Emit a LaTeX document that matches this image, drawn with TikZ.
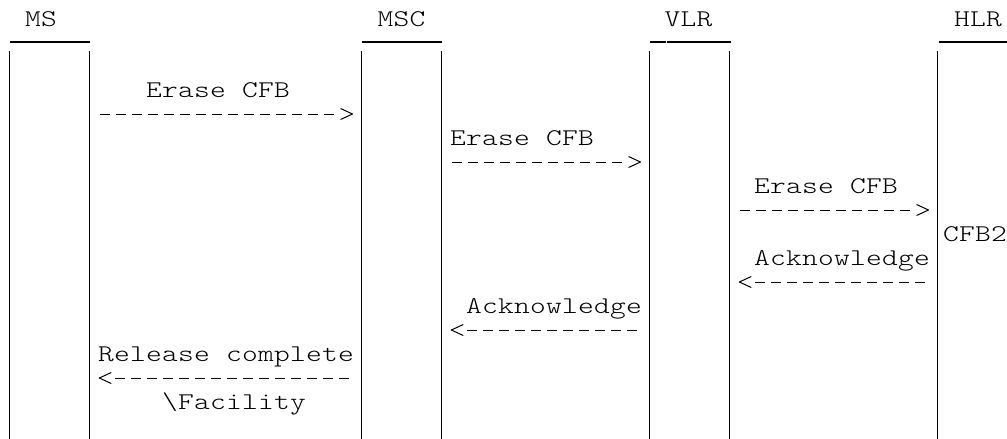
\documentclass[tikz,border=0pt]{standalone}
\usepackage{fontspec}
\usepackage{graphicx}
\usetikzlibrary{arrows.meta}
\newfontfamily\diagmono{lmmonolt10-regular.otf}
\newlength\cellw
\setlength\cellw{16pt}
\def\gridend{\gridend}
\newcommand\gridtext[1]{\gridloop#1\gridend}
\def\gridloop#1{\ifx#1\gridend\else\makebox[\cellw][c]{\scalebox{1.25}[1]{#1}}\expandafter\gridloop\fi}
\pgfdeclarearrow{
  name = Chev,
  parameters = {\the\pgfarrowlength,\the\pgfarrowwidth},
  setup code = {
    \pgfarrowssettipend{0pt}
    \pgfarrowssetlineend{-14pt}
    \pgfarrowssetbackend{-\pgfarrowlength}
    \pgfarrowssavethe\pgfarrowlength
    \pgfarrowssavethe\pgfarrowwidth
  },
  drawing code = {
    \pgfsetdash{}{0pt}
    \pgfsetroundjoin
    \pgfpathmoveto{\pgfpoint{-\pgfarrowlength}{0.5\pgfarrowwidth}}
    \pgfpathlineto{\pgfpointorigin}
    \pgfpathlineto{\pgfpoint{-\pgfarrowlength}{-0.5\pgfarrowwidth}}
    \pgfusepathqstroke
  },
  defaults = {length = 12pt, width = 11pt}
}
\tikzset{
  lbl/.style={font=\diagmono\fontsize{24pt}{28pt}\selectfont, inner sep=0pt, outer sep=0pt, anchor=base west},
  hdr/.style={lbl, anchor=base},
  life/.style={line width=1pt, black},
  hbar/.style={line width=2pt, black},
  msg/.style={line width=1pt, black, dash pattern=on 10pt off 6pt, -{Chev}}
}
\begin{document}
\begin{tikzpicture}[x=1pt,y=-1pt]
\fill[white] (0,0) rectangle (1007,439);
\useasboundingbox (0,0) rectangle (1007,439);

% headers
\node[hdr] (hMS)  at (41,26)    {\gridtext{MS}};
\node[hdr] (hMSC) at (401.5,26) {\gridtext{MSC}};
\node[hdr] (hVLR) at (688.5,26) {\gridtext{VLR}};
\node[hdr] (hHLR) at (978,26)   {\gridtext{HLR}};

% header bars
\draw[hbar] (10,42) -- (90,42);
\draw[hbar] (361.7,42) -- (441.9,42);
\draw[hbar] (650,42) -- (666,42);
\draw[hbar] (667.3,42) -- (731,42);
\draw[hbar] (939,42) -- (1007,42);

% lifelines
\foreach \lx in {9.8,89.6,361.8,441.7,649.6,729.5,937.8}
  \draw[life] (\lx,51) -- (\lx,439);

% labels
\node[lbl] (l1) at (146,97.3)  {\gridtext{Erase~CFB}};
\node[lbl] (l2) at (450,145.3) {\gridtext{Erase~CFB}};
\node[lbl] (l3) at (754,193.3) {\gridtext{Erase~CFB}};
\node[lbl] (l4) at (943,241.3) {\gridtext{CFB2}};
\node[lbl] (l5) at (754,265.3) {\gridtext{Acknowledge}};
\node[lbl] (l6) at (466,313.3) {\gridtext{Acknowledge}};
\node[lbl] (l7) at (98,361.3)  {\gridtext{Release~complete}};
\node[lbl] (l8) at (162,409.3) {\gridtext{\textbackslash Facility}};

% message end points
\coordinate (m1s) at (100,114);   \coordinate (m1e) at (352.5,114);
\coordinate (m2s) at (452,162);   \coordinate (m2e) at (640.5,162);
\coordinate (m3s) at (740,210);   \coordinate (m3e) at (928.5,210);
\coordinate (m4s) at (924.5,282); \coordinate (m4e) at (739.3,282);
\coordinate (m5s) at (636.5,330); \coordinate (m5e) at (451.3,330);
\coordinate (m6s) at (348.5,378); \coordinate (m6e) at (99.3,378);

\draw[msg] (m1s) -- (m1e);
\draw[msg] (m2s) -- (m2e);
\draw[msg] (m3s) -- (m3e);
\draw[msg] (m4s) -- (m4e);
\draw[msg] (m5s) -- (m5e);
\draw[msg] (m6s) -- (m6e);
\end{tikzpicture}
\end{document}
